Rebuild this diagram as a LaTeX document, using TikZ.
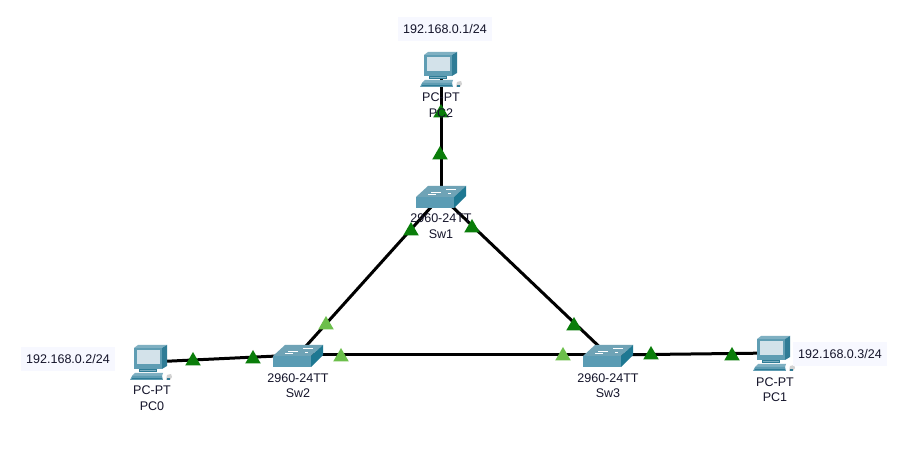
\documentclass[tikz,border=0pt]{standalone}
\usepackage{fontspec}
\setmainfont{Liberation Sans}
\usetikzlibrary{shapes.geometric}
\definecolor{txt}{HTML}{14142A}
\definecolor{lblbg}{HTML}{F7F8FF}
\definecolor{lnkdark}{HTML}{0A7D0A}
\definecolor{lnklight}{HTML}{6CBF4B}
\definecolor{pcfront}{HTML}{5F9DB3}
\definecolor{pctop}{HTML}{7FB0C2}
\definecolor{pcside}{HTML}{2F7C96}
\definecolor{pcscreen}{HTML}{D3E2EA}
\definecolor{swtop}{HTML}{6FA3B6}
\definecolor{swfront}{HTML}{5B9CB4}
\definecolor{swside}{HTML}{1E7892}
\tikzset{
  x=0.75pt,y=-0.75pt,
  hub/.style={inner sep=0pt,minimum size=1pt,outer sep=0pt},
  link/.style={line width=2.25pt,black},
  tri/.style={regular polygon,regular polygon sides=3,inner sep=0pt,minimum size=13.5pt,outer sep=0pt},
  tridark/.style={tri,fill=lnkdark},
  trilight/.style={tri,fill=lnklight},
  devtext/.style={font=\fontsize{9.4}{10}\selectfont,text=txt,inner sep=0pt,text height=6.8pt,text depth=0pt},
  addr/.style={font=\fontsize{9.4}{10}\selectfont,text=txt,fill=lblbg,minimum width=70pt,minimum height=17.5pt,inner sep=0pt,text height=6.8pt,text depth=0pt},
  pcicon/.pic={
    \begin{scope}[shift={(-21,-17)}]
      \fill[pctop] (4,3)--(8,0)--(37,0)--(32,3)--cycle;
      \fill[pcside] (32,3)--(37,0)--(37,21)--(32,24)--cycle;
      \fill[pcfront] (4,3) rectangle (32,24);
      \fill[pcscreen] (7,5) rectangle (30,19);
      \fill[pcside] (9,24) rectangle (27,27);
      \fill[pctop] (10,25) rectangle (26,26);
      \fill[pctop] (5,28)--(33,28)--(32,31)--(2,31)--cycle;
      \fill[pcfront] (2,31)--(32,31)--(33,35)--(0,35)--cycle;
      \fill[pcside] (2,33) rectangle (32,34);
      \fill[gray!35] (37,30)--(41,29)--(42,32)--(40,35)--(36,35)--cycle;
      \fill[pcside] (37,33) rectangle (40,35);
    \end{scope}
  },
  swicon/.pic={
    \begin{scope}[shift={(-25,-11)}]
      \fill[swtop] (0,12)--(12,1)--(50,1)--(38,12)--cycle;
      \fill[swfront] (0,12) rectangle (38,23);
      \fill[swside] (38,12)--(50,1)--(50,11)--(38,23)--cycle;
      \draw[white,line width=0.6pt] (15,7)--(25,7);
      \draw[white,line width=0.6pt] (30,4)--(40,4);
      \draw[white,line width=0.6pt] (12,9)--(20,9);
      \draw[white,line width=0.6pt] (32,8)--(35,8);
    \end{scope}
  }
}
\begin{document}
\begin{tikzpicture}
\useasboundingbox (0,0) rectangle (921,473);
\fill[white] (0,0) rectangle (921,473);
% device anchors
\node[hub] (pc2) at (441,69) {};
\node[hub] (pc0) at (151,362) {};
\node[hub] (pc1) at (774,353) {};
\node[hub] (sw1) at (441,196) {};
\node[hub] (sw2) at (298,355) {};
\node[hub] (sw3) at (608,355) {};
% links
\draw[link] (pc2.center) -- (sw1.center);
\draw[link] (sw1.center) -- (sw2.center);
\draw[link] (sw1.center) -- (sw3.center);
\draw[link] (sw2.center) -- (sw3.center);
\draw[link] (pc0.center) -- (sw2.center);
\draw[link] (sw3.center) -- (pc1.center);
% icons
\pic at (pc2.center) {pcicon};
\pic at (pc0.center) {pcicon};
\pic at (pc1.center) {pcicon};
\pic at (sw1.center) {swicon};
\pic at (sw2.center) {swicon};
\pic at (sw3.center) {swicon};
% link lights
\node[tridark] (t1) at (441,113) {};
\node[tridark] (t2) at (440,155) {};
\node[tridark] (t3) at (411,231) {};
\node[tridark] (t4) at (472,228) {};
\node[tridark] (t5) at (193,361) {};
\node[tridark] (t6) at (253,359) {};
\node[tridark] (t7) at (574,326) {};
\node[tridark] (t8) at (651,355) {};
\node[tridark] (t9) at (732,356) {};
\node[trilight] (t10) at (326,325) {};
\node[trilight] (t11) at (341,357) {};
\node[trilight] (t12) at (563,356) {};
% texts
\node[devtext] (pc2a) at (441,97) {PC-PT};
\node[devtext] (pc2b) at (441,113) {PC2};
\node[devtext] (pc0a) at (152,390) {PC-PT};
\node[devtext] (pc0b) at (152,406) {PC0};
\node[devtext] (pc1a) at (775,382) {PC-PT};
\node[devtext] (pc1b) at (775,397) {PC1};
\node[devtext] (sw1a) at (441,218) {2960-24TT};
\node[devtext] (sw1b) at (441,234) {Sw1};
\node[devtext] (sw2a) at (298,378) {2960-24TT};
\node[devtext] (sw2b) at (298,393) {Sw2};
\node[devtext] (sw3a) at (608,378) {2960-24TT};
\node[devtext] (sw3b) at (608,393) {Sw3};
\node[addr] (ip1) at (445,29) {192.168.0.1/24};
\node[addr] (ip2) at (68,359) {192.168.0.2/24};
\node[addr] (ip3) at (840,354) {192.168.0.3/24};
\end{tikzpicture}
\end{document}
